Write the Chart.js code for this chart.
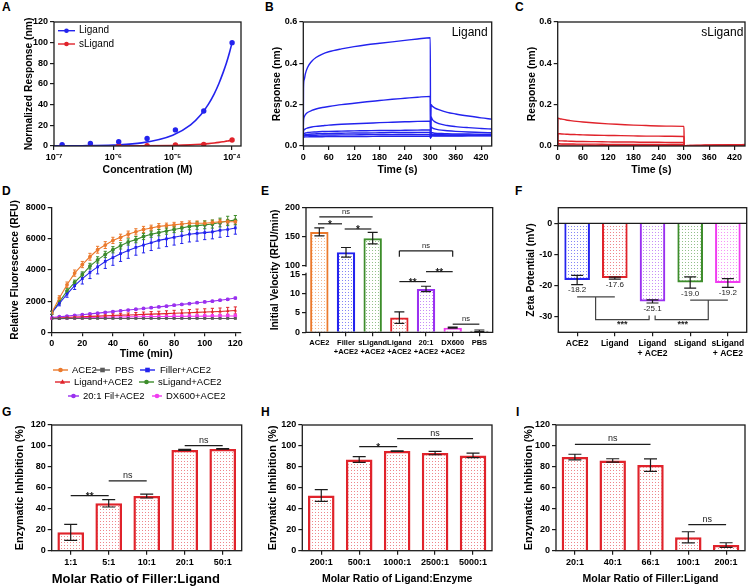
<!DOCTYPE html>
<html>
<head>
<meta charset="utf-8">
<title>Ligand binding and ACE2 inhibition</title>
<script src="https://cdn.jsdelivr.net/npm/chart.js@4.4.1/dist/chart.umd.min.js"></script>
<style>
  body { margin: 0; width: 749px; height: 586px; position: relative; overflow: hidden; background: #fff; font-family: "Liberation Sans", Arial, sans-serif; }
  canvas { position: absolute; }
  .tag { position: absolute; font-size: 12px; font-weight: bold; line-height: 12px; }
</style>
</head>
<body>
<div class="tag" style="left:2px;top:1px">A</div>
<div class="tag" style="left:265px;top:1px">B</div>
<div class="tag" style="left:515px;top:1px">C</div>
<div class="tag" style="left:2px;top:185px">D</div>
<div class="tag" style="left:261px;top:185px">E</div>
<div class="tag" style="left:515px;top:185px">F</div>
<div class="tag" style="left:2px;top:406px">G</div>
<div class="tag" style="left:261px;top:406px">H</div>
<div class="tag" style="left:516px;top:406px">I</div>
<script>
// ---------- A: concentration response ----------
const aConc = [1.37e-7, 4.1e-7, 1.23e-6, 3.7e-6, 1.11e-5, 3.33e-5, 1e-4];
const aLigand = [1.2, 2.4, 4.2, 7.2, 15.6, 33.8, 100];
const aSLigand = [0.1, 0.1, 0.3, 0.4, 0.9, 1.6, 5.8];
const aFitConc = [1e-7, 3e-7, 1e-6, 3e-6, 1e-5, 2e-5, 3e-5, 4e-5, 5e-5, 6e-5, 7e-5, 8e-5, 9e-5, 1e-4];
const aLigandFit = [0.1, 0.3, 1, 3, 10.5, 20.5, 30.5, 40.5, 50.5, 60.5, 70.5, 80, 90, 100];
const aSLigandFit = [0, 0, 0.05, 0.15, 0.55, 1.1, 1.7, 2.3, 2.9, 3.5, 4.1, 4.7, 5.2, 5.8];
const aTicks = [1e-7, 1e-6, 1e-5, 1e-4];

// ---------- B / C: sensorgrams ----------
const bTime = [0, 0.5, 2, 5, 10, 20, 30, 45, 60, 90, 120, 150, 180, 210, 240, 270, 300, 300.5, 302, 305, 310, 320, 340, 360, 390, 420, 445];
const bCurve1 = [0.05, 0.28, 0.32, 0.35, 0.38, 0.41, 0.428, 0.445, 0.456, 0.47, 0.481, 0.49, 0.497, 0.504, 0.511, 0.518, 0.524, 0.04, 0.2, 0.192, 0.185, 0.176, 0.163, 0.155, 0.145, 0.136, 0.13];
const bCurve2 = [0.05, 0.12, 0.14, 0.152, 0.162, 0.172, 0.179, 0.186, 0.191, 0.2, 0.207, 0.214, 0.22, 0.226, 0.231, 0.236, 0.24, 0.04, 0.14, 0.128, 0.118, 0.108, 0.099, 0.094, 0.089, 0.085, 0.082];
const bCurve3 = [0.05, 0.07, 0.078, 0.083, 0.087, 0.092, 0.095, 0.098, 0.101, 0.105, 0.108, 0.11, 0.113, 0.115, 0.117, 0.119, 0.12, 0.04, 0.092, 0.087, 0.083, 0.078, 0.074, 0.071, 0.068, 0.066, 0.064];
const bCurve4 = [0.05, 0.055, 0.06, 0.063, 0.065, 0.067, 0.068, 0.07, 0.071, 0.072, 0.073, 0.074, 0.075, 0.075, 0.076, 0.077, 0.078, 0.04, 0.066, 0.064, 0.062, 0.061, 0.059, 0.058, 0.058, 0.057, 0.057];
const bCurve5 = [0.045, 0.05, 0.053, 0.055, 0.056, 0.058, 0.059, 0.06, 0.061, 0.062, 0.063, 0.063, 0.064, 0.065, 0.065, 0.066, 0.066, 0.04, 0.057, 0.056, 0.055, 0.055, 0.054, 0.054, 0.054, 0.054, 0.053];
const bCurve6 = [0.045, 0.047, 0.049, 0.05, 0.051, 0.052, 0.052, 0.053, 0.053, 0.054, 0.054, 0.055, 0.055, 0.055, 0.056, 0.056, 0.056, 0.04, 0.052, 0.052, 0.051, 0.051, 0.051, 0.051, 0.05, 0.05, 0.05];
const bCurve7 = [0.04, 0.042, 0.043, 0.044, 0.044, 0.045, 0.045, 0.045, 0.046, 0.046, 0.046, 0.046, 0.047, 0.047, 0.047, 0.047, 0.048, 0.038, 0.048, 0.048, 0.048, 0.048, 0.048, 0.048, 0.049, 0.049, 0.049];
const cCurve1 = [0.005, 0.135, 0.134, 0.132, 0.13, 0.126, 0.123, 0.119, 0.116, 0.111, 0.107, 0.104, 0.101, 0.099, 0.097, 0.096, 0.095, 0.002, 0.002, 0.002, 0.003, 0.003, 0.003, 0.004, 0.005, 0.006, 0.007];
const cCurve2 = [0.004, 0.06, 0.06, 0.059, 0.058, 0.057, 0.056, 0.055, 0.054, 0.052, 0.051, 0.05, 0.049, 0.048, 0.048, 0.047, 0.046, 0.002, 0.002, 0.002, 0.002, 0.003, 0.003, 0.004, 0.004, 0.005, 0.006];
const cCurve3 = [0.003, 0.026, 0.026, 0.025, 0.025, 0.024, 0.023, 0.022, 0.022, 0.021, 0.02, 0.019, 0.019, 0.018, 0.018, 0.017, 0.017, 0.001, 0.001, 0.002, 0.002, 0.002, 0.003, 0.003, 0.004, 0.004, 0.005];
const cCurve4 = [0.002, 0.011, 0.011, 0.011, 0.01, 0.01, 0.01, 0.009, 0.009, 0.009, 0.008, 0.008, 0.008, 0.007, 0.007, 0.007, 0.007, 0.001, 0.001, 0.001, 0.002, 0.002, 0.002, 0.003, 0.003, 0.004, 0.004];
const cCurve5 = [0.001, 0.004, 0.004, 0.004, 0.004, 0.004, 0.004, 0.004, 0.004, 0.003, 0.003, 0.003, 0.003, 0.003, 0.003, 0.003, 0.003, 0.001, 0.001, 0.001, 0.001, 0.001, 0.002, 0.002, 0.002, 0.003, 0.003];
const timeTicks = [0, 60, 120, 180, 240, 300, 360, 420];
const respTicks = [0, 0.2, 0.4, 0.6];

// ---------- D: kinetics ----------
const dTime = [0, 5, 10, 15, 20, 25, 30, 35, 40, 45, 50, 55, 60, 65, 70, 75, 80, 85, 90, 95, 100, 105, 110, 115, 120];
const dAce2 = [1250, 2200, 3050, 3800, 4350, 4850, 5300, 5600, 5900, 6100, 6300, 6450, 6600, 6700, 6800, 6850, 6900, 6950, 7000, 7000, 7000, 7050, 7100, 7100, 7100];
const dAce2Err = [100, 150, 180, 200, 200, 220, 220, 220, 200, 200, 200, 200, 200, 180, 180, 160, 160, 150, 150, 150, 150, 150, 150, 150, 150];
const dPbs = [880, 880, 885, 885, 885, 885, 890, 890, 890, 890, 890, 890, 890, 890, 890, 890, 890, 890, 890, 890, 890, 890, 890, 890, 890];
const dPbsErr = [30, 30, 30, 30, 30, 30, 30, 30, 30, 30, 30, 30, 30, 30, 30, 30, 30, 30, 30, 30, 30, 30, 30, 30, 30];
const dFiller = [1250, 1850, 2450, 3000, 3450, 3850, 4200, 4550, 4800, 5050, 5250, 5450, 5600, 5750, 5900, 6000, 6100, 6200, 6300, 6350, 6400, 6450, 6550, 6600, 6700];
const dFillerErr = [100, 150, 200, 250, 350, 400, 450, 450, 500, 500, 500, 500, 500, 500, 500, 500, 500, 500, 500, 500, 450, 450, 450, 450, 400];
const dLigand = [900, 920, 950, 980, 1000, 1020, 1040, 1060, 1080, 1100, 1110, 1130, 1150, 1170, 1180, 1200, 1220, 1240, 1260, 1280, 1300, 1320, 1340, 1370, 1400];
const dLigandErr = [30, 40, 50, 60, 70, 80, 90, 100, 110, 120, 130, 140, 150, 160, 170, 180, 190, 200, 200, 210, 210, 220, 220, 230, 230];
const dSLigand = [1250, 1950, 2650, 3200, 3700, 4250, 4650, 5000, 5300, 5550, 5800, 5950, 6150, 6300, 6400, 6500, 6600, 6700, 6800, 6850, 6900, 6950, 7050, 7150, 7200];
const dSLigandErr = [100, 120, 150, 150, 180, 180, 200, 200, 200, 200, 200, 200, 200, 200, 200, 200, 200, 220, 220, 240, 250, 260, 280, 300, 300];
const dFil20 = [950, 1000, 1040, 1090, 1130, 1180, 1230, 1280, 1330, 1380, 1430, 1480, 1530, 1580, 1630, 1680, 1740, 1790, 1840, 1900, 1950, 2000, 2060, 2120, 2200];
const dFil20Err = [30, 30, 30, 30, 30, 40, 40, 40, 40, 40, 40, 40, 40, 40, 40, 50, 50, 50, 50, 50, 50, 50, 50, 60, 60];
const dDx600 = [900, 910, 920, 930, 940, 950, 960, 970, 980, 985, 990, 995, 1000, 1005, 1010, 1015, 1020, 1025, 1030, 1035, 1040, 1040, 1045, 1050, 1050];
const dDx600Err = [50, 50, 60, 60, 60, 70, 70, 70, 80, 80, 80, 80, 90, 90, 90, 90, 100, 100, 100, 100, 110, 110, 110, 120, 120];
const dTimeTicks = [0, 20, 40, 60, 80, 100, 120];
const dFluoTicks = [0, 2000, 4000, 6000, 8000];

// ---------- E: initial velocity (broken axis) ----------
const eLabels = ['ACE2', ['Filler', '+ACE2'], ['sLigand', '+ACE2'], ['Ligand', '+ACE2'], ['20:1', '+ACE2'], ['DX600', '+ACE2'], 'PBS'];
const eValues = [158, 122.5, 147, 3.8, 11.2, 1.2, 0.4];
const eErrors = [7, 8.4, 10, 1.5, 0.7, 0.15, 0.2];
const eTicks = [0, 5, 10, 15, 100, 150, 200];
const eSig = [
  {a: 0, b: 2, v: 184, t: 'ns'},
  {a: -0.05, b: 0.85, v: 172, t: '*'},
  {a: 0.95, b: 1.95, v: 163, t: '*'},
  {a: 3, b: 5, v: 125, drop: 115, t: 'ns'},
  {a: 3, b: 4, v: 13.1, t: '**'},
  {a: 4, b: 5, v: 39.5, t: '**'},
  {a: 5, b: 6, v: 2.1, t: 'ns'}
];

// ---------- F: zeta potential ----------
const fLabels = ['ACE2', 'Ligand', ['Ligand', '+ ACE2'], 'sLigand', ['sLigand', '+ ACE2']];
const fValues = [-18.2, -17.6, -25.1, -19.0, -19.2];
const fErrors = [1.5, 0.3, 0.5, 1.8, 1.4];
const fTicks = [-30, -20, -10, 0];
const fBracketLeft = [[0, -23.6], [1, -23.6], null, [0.49, -23.6], [0.49, -30.9], [1.91, -30.9], [1.91, -29.6]];
const fBracketRight = [[3, -24.7], [4, -24.7], null, [3.48, -24.7], [3.48, -30.9], [2.07, -30.9], [2.07, -29.6]];
const fStars = [[1.2, '***'], [2.8, '***']];

// ---------- G / H / I: enzymatic inhibition ----------
const gLabels = ['1:1', '5:1', '10:1', '20:1', '50:1'];
const gValues = [17.5, 45.2, 52.2, 96.2, 97.2];
const gErrors = [7.6, 3.5, 1.9, 0.5, 0.3];
const gSig = [{a: 0, b: 1, v: 52.5, t: '**'}, {a: 1, b: 2, v: 66.6, t: 'ns'}, {a: 3, b: 4, v: 100.3, t: 'ns'}];
const hLabels = ['200:1', '500:1', '1000:1', '2500:1', '5000:1'];
const hValues = [52.7, 87.1, 95.1, 93.2, 91];
const hErrors = [5.6, 2.7, 0.3, 1.6, 2.2];
const hSig = [{a: 1, b: 2, v: 99.3, t: '*'}, {a: 2, b: 4, v: 106.9, t: 'ns'}];
const iLabels = ['20:1', '40:1', '66:1', '100:1', '200:1'];
const iValues = [89.4, 86.2, 81.7, 12.8, 5.4];
const iErrors = [2.7, 1.6, 6, 5.3, 2.2];
const iSig = [{a: 0, b: 2, v: 101.5, t: 'ns'}, {a: 3, b: 4, v: 24.9, t: 'ns'}];
const pctTicks = [0, 20, 40, 60, 80, 100, 120];

// ---------- styling ----------
const BLUE = '#2323ee', RED = '#e0232b', ORANGE = '#eb7a2d', GREEN = '#3d8d2b', PURPLE = '#9a30f0', MAGENTA = '#f03cf0', GRAY = '#5a5a5a', INK = '#1c1c1c';
const FONT = '"Liberation Sans", Arial, sans-serif';
const YT = 10.3;   // y title size
Chart.defaults.font.family = FONT;
Chart.defaults.color = '#000';

// y axis with a break between 15 and 100
class BrokenScale extends Chart.LinearScale {
  toDecimal(v) {
    if (v <= 15) return v / 15 * 0.466;
    if (v >= 100) return 0.538 + (v - 100) / 100 * 0.462;
    return 0.466 + (v - 15) / 85 * 0.072;
  }
  getPixelForValue(v) {
    return this.getPixelForDecimal(this.toDecimal(v));
  }
  getValueForPixel(p) {
    const d = this.getDecimalForPixel(p);
    if (d <= 0.466) return d / 0.466 * 15;
    if (d >= 0.538) return 100 + (d - 0.538) / 0.462 * 100;
    return 15 + (d - 0.466) / 0.072 * 85;
  }
}
BrokenScale.id = 'broken';
BrokenScale.defaults = Chart.LinearScale.defaults;
Chart.register(BrokenScale);

function mk(id, cx, cy, cw, ch) {
  const c = document.createElement('canvas');
  c.id = id;
  c.width = cw;
  c.height = ch;
  c.style.left = cx + 'px';
  c.style.top = cy + 'px';
  c.style.width = cw + 'px';
  c.style.height = ch + 'px';
  document.body.appendChild(c);
  return c;
}

// pins the plot area: L,T,R,B = plot edges, tx = y title centre, ty = x title centre (page px)
function box(cx, cy, cw, ch, L, T, R, B, tx, ty, lhY, lhX) {
  return {
    padding: {left: tx - lhY / 2 - cx, top: T - cy, right: cx + cw - R, bottom: cy + ch - (ty + lhX / 2)},
    yFit: s => { s.width = L - (tx - lhY / 2); },
    xFit: s => { s.height = ty + lhX / 2 - B; }
  };
}

function pts(xs, ys) {
  return xs.map((x, i) => ({x: x, y: ys[i]}));
}

function dots(color) {
  const c = document.createElement('canvas');
  c.width = 3;
  c.height = 3;
  const g = c.getContext('2d');
  g.fillStyle = '#fff';
  g.fillRect(0, 0, 3, 3);
  g.globalAlpha = 0.55;
  g.fillStyle = color;
  g.fillRect(1, 1, 1, 1);
  return g.createPattern(c, 'repeat');
}

function axis(o) {
  const ticks = {font: {size: o.tick || 9, weight: 'bold'}, padding: 2, autoSkip: false, maxRotation: 0, color: '#000'};
  if (o.cb) ticks.callback = o.cb;
  const a = {
    type: o.type || 'linear',
    afterFit: o.fit,
    border: {display: !!o.border, color: INK, width: 1.3},
    grid: {display: true, drawOnChartArea: false, drawTicks: true, tickLength: 4, color: INK, lineWidth: 1.2, offset: false},
    ticks: ticks,
    title: {display: !!o.title, text: o.title || '', align: o.talign || 'center', font: {size: o.tsize || YT, weight: 'bold'}, padding: 0, color: '#000'}
  };
  if (o.min !== undefined) a.min = o.min;
  if (o.max !== undefined) a.max = o.max;
  if (o.offset) a.offset = true;
  if (o.list) a.afterBuildTicks = s => { s.ticks = o.list.map(v => ({value: v})); };
  return a;
}

function base(lay, scales) {
  return {
    responsive: false,
    animation: false,
    devicePixelRatio: 1,
    layout: {padding: lay.padding},
    plugins: {legend: {display: false}, tooltip: {enabled: false}},
    scales: scales
  };
}

function frame(c) {
  const a = c.chartArea, g = c.ctx;
  g.save();
  g.strokeStyle = INK;
  g.lineWidth = 1.3;
  g.strokeRect(a.left, a.top, a.right - a.left, a.bottom - a.top);
  g.restore();
}

function errorBars(c, di, vals, errs, color, cap, lw) {
  const meta = c.getDatasetMeta(di), y = c.scales.y, g = c.ctx;
  g.save();
  g.strokeStyle = color;
  g.lineWidth = lw;
  meta.data.forEach((el, i) => {
    if (!errs[i]) return;
    const x = el.x, y1 = y.getPixelForValue(vals[i] + errs[i]), y2 = y.getPixelForValue(vals[i] - errs[i]);
    g.beginPath();
    g.moveTo(x, y1); g.lineTo(x, y2);
    g.moveTo(x - cap, y1); g.lineTo(x + cap, y1);
    g.moveTo(x - cap, y2); g.lineTo(x + cap, y2);
    g.stroke();
  });
  g.restore();
}

function sig(c, items, nsSize) {
  const g = c.ctx, x = c.scales.x, y = c.scales.y;
  g.save();
  g.strokeStyle = INK;
  g.fillStyle = INK;
  g.lineWidth = 1.2;
  g.textAlign = 'center';
  g.textBaseline = 'alphabetic';
  items.forEach(s => {
    const x1 = x.getPixelForValue(s.a), x2 = x.getPixelForValue(s.b), yy = y.getPixelForValue(s.v);
    g.beginPath();
    g.moveTo(x1, yy); g.lineTo(x2, yy);
    if (s.drop != null) {
      const yd = y.getPixelForValue(s.drop);
      g.moveTo(x1, yy); g.lineTo(x1, yd);
      g.moveTo(x2, yy); g.lineTo(x2, yd);
    }
    g.stroke();
    if (s.t === 'ns') {
      g.font = nsSize + 'px ' + FONT;
      g.fillText('ns', (x1 + x2) / 2, yy - 3);
    } else {
      g.font = 'bold 10px ' + FONT;
      g.fillText(s.t, (x1 + x2) / 2, yy + 4);
    }
  });
  g.restore();
}

function marker(g, style, x, y, r, color) {
  g.fillStyle = color;
  g.beginPath();
  if (style === 'rect') g.rect(x - r, y - r, 2 * r, 2 * r);
  else if (style === 'triangle') { g.moveTo(x, y - r * 1.2); g.lineTo(x + r * 1.1, y + r * 0.8); g.lineTo(x - r * 1.1, y + r * 0.8); g.closePath(); }
  else g.arc(x, y, r, 0, Math.PI * 2);
  g.fill();
}

function legendItem(g, x1, x2, y, color, style, text, tx, font) {
  g.strokeStyle = color;
  g.lineWidth = 1.4;
  g.beginPath();
  g.moveTo(x1, y); g.lineTo(x2, y);
  g.stroke();
  marker(g, style, (x1 + x2) / 2, y, 2.3, color);
  g.fillStyle = '#000';
  g.font = font;
  g.textAlign = 'left';
  g.textBaseline = 'middle';
  g.fillText(text, tx, y);
}

// ---------- A ----------
const layA = box(0, 0, 245, 182, 54, 22, 241, 146, 29, 170, 12.4, 12.6);
const supDigits = {'-': '\u207b', '4': '\u2074', '5': '\u2075', '6': '\u2076', '7': '\u2077'};
new Chart(mk('cA', 0, 0, 245, 182), {
  type: 'scatter',
  data: {datasets: [
    {data: pts(aConc, aLigand), pointRadius: 2.7, backgroundColor: BLUE, borderWidth: 0},
    {data: pts(aConc, aSLigand), pointRadius: 2.7, backgroundColor: RED, borderWidth: 0},
    {data: pts(aFitConc, aLigandFit), showLine: true, pointRadius: 0, borderColor: BLUE, borderWidth: 1.6, cubicInterpolationMode: 'monotone'},
    {data: pts(aFitConc, aSLigandFit), showLine: true, pointRadius: 0, borderColor: RED, borderWidth: 1.6, cubicInterpolationMode: 'monotone'}
  ]},
  options: base(layA, {
    x: axis({type: 'logarithmic', min: 1e-7, max: Math.pow(10, -3.85), fit: layA.xFit, list: aTicks, title: 'Concentration (M)', tsize: 10.5,
      cb: v => '10' + String(Math.round(Math.log10(v))).split('').map(ch => supDigits[ch] || ch).join('')}),
    y: axis({min: 0, max: 120, fit: layA.yFit, list: [0, 20, 40, 60, 80, 100, 120], title: 'Normalized Response (nm)'})
  }),
  plugins: [{id: 'aDeco', afterDraw(c) {
    frame(c);
    const g = c.ctx;
    g.save();
    legendItem(g, 58, 75, 30.7, BLUE, 'circle', 'Ligand', 79, '10px ' + FONT);
    legendItem(g, 58, 75, 44, RED, 'circle', 'sLigand', 79, '10px ' + FONT);
    g.restore();
  }}]
});

// ---------- B / C ----------
function sensorChart(id, cx, cw, L, R, tx, curves, color, tag, tagX) {
  const lay = box(cx, 0, cw, 182, L, 22, R, 146, tx, 170, 12.4, 12.6);
  return new Chart(mk(id, cx, 0, cw, 182), {
    type: 'scatter',
    data: {datasets: curves.map(cv => ({data: pts(bTime, cv), showLine: true, pointRadius: 0, borderColor: color, borderWidth: 1.4, cubicInterpolationMode: 'monotone'}))},
    options: base(lay, {
      x: axis({min: 0, max: 445, fit: lay.xFit, list: timeTicks, title: 'Time (s)', tsize: 10.5}),
      y: axis({min: 0, max: 0.6, fit: lay.yFit, list: respTicks, title: 'Response (nm)', cb: v => v.toFixed(1)})
    }),
    plugins: [{id: id + 'Deco', afterDraw(c) {
      frame(c);
      const g = c.ctx;
      g.save();
      g.fillStyle = '#000';
      g.font = '12px ' + FONT;
      g.textAlign = 'right';
      g.textBaseline = 'middle';
      g.fillText(tag, tagX, 32.3);
      g.restore();
    }}]
  });
}
sensorChart('cB', 245, 250, 303.3, 491.7, 276.7, [bCurve1, bCurve2, bCurve3, bCurve4, bCurve5, bCurve6, bCurve7], BLUE, 'Ligand', 242.7);
sensorChart('cC', 495, 254, 557.7, 745, 531.7, [cCurve1, cCurve2, cCurve3, cCurve4, cCurve5], RED, 'sLigand', 248.3);

// ---------- D ----------
const layD = box(0, 180, 245, 222, 51.7, 207.7, 240.7, 332.3, 15, 354, 12.4, 12.6);
const dSeries = [
  {label: 'ACE2', v: dAce2, e: dAce2Err, c: ORANGE, s: 'circle'},
  {label: 'PBS', v: dPbs, e: dPbsErr, c: GRAY, s: 'rect'},
  {label: 'Filler+ACE2', v: dFiller, e: dFillerErr, c: BLUE, s: 'rect'},
  {label: 'Ligand+ACE2', v: dLigand, e: dLigandErr, c: RED, s: 'triangle'},
  {label: 'sLigand+ACE2', v: dSLigand, e: dSLigandErr, c: GREEN, s: 'circle'},
  {label: '20:1 Fil+ACE2', v: dFil20, e: dFil20Err, c: PURPLE, s: 'circle'},
  {label: 'DX600+ACE2', v: dDx600, e: dDx600Err, c: MAGENTA, s: 'circle'}
];
new Chart(mk('cD', 0, 180, 245, 222), {
  type: 'scatter',
  data: {datasets: dSeries.map(s => ({label: s.label, data: pts(dTime, s.v), showLine: true, borderColor: s.c, backgroundColor: s.c, borderWidth: 1.1,
    pointRadius: 1.9, pointStyle: s.s, pointBorderWidth: 0}))},
  options: base(layD, {
    x: axis({min: 0, max: 123.5, fit: layD.xFit, list: dTimeTicks, title: 'Time (min)', tsize: 10.5, border: true}),
    y: axis({min: 0, max: 8000, fit: layD.yFit, list: dFluoTicks, title: 'Relative Fluorescence (RFU)', border: true, cb: v => String(v)})
  }),
  plugins: [{id: 'dDeco',
    beforeDatasetsDraw(c) {
      dSeries.forEach((s, i) => errorBars(c, i, s.v, s.e, s.c, 1.6, 1));
    },
    afterDraw(c) {
      const g = c.ctx, f = '9.5px ' + FONT;
      g.save();
      legendItem(g, 53, 68, 190, ORANGE, 'circle', 'ACE2', 72, f);
      legendItem(g, 95, 110, 190, GRAY, 'rect', 'PBS', 115, f);
      legendItem(g, 140, 155, 190, BLUE, 'rect', 'Filler+ACE2', 160, f);
      legendItem(g, 55, 70, 202, RED, 'triangle', 'Ligand+ACE2', 74, f);
      legendItem(g, 139, 154, 202, GREEN, 'circle', 'sLigand+ACE2', 158, f);
      legendItem(g, 68, 79, 216, PURPLE, 'circle', '20:1 Fil+ACE2', 83, f);
      legendItem(g, 152, 162, 216, MAGENTA, 'circle', 'DX600+ACE2', 166, f);
      g.restore();
    }}]
});

// ---------- E ----------
const layE = box(245, 180, 250, 222, 306, 207.7, 492.7, 332.3, 275, 370, 12.4, 12.6);
const eColors = [ORANGE, BLUE, GREEN, RED, PURPLE, MAGENTA, GRAY];
new Chart(mk('cE', 245, 180, 250, 222), {
  type: 'bar',
  data: {labels: eLabels, datasets: [{data: eValues, backgroundColor: eColors.map(dots), borderColor: eColors, borderWidth: 2.2,
    barPercentage: 0.69, categoryPercentage: 1}]},
  options: base(layE, {
    x: axis({type: 'category', offset: true, fit: layE.xFit, tick: 7.5}),
    y: axis({type: 'broken', min: 0, max: 200, fit: layE.yFit, list: eTicks, title: 'Initial Velocity (RFU/min)'})
  }),
  plugins: [{id: 'eDeco', afterDraw(c) {
    errorBars(c, 0, eValues, eErrors, INK, 5, 1.2);
    sig(c, eSig, 7.5);
    const a = c.chartArea, g = c.ctx, y = c.scales.y;
    g.save();
    g.strokeStyle = INK;
    g.lineWidth = 1.3;
    g.beginPath();
    g.moveTo(a.left, y.getPixelForValue(100) + 1.5);
    g.lineTo(a.left, a.top);
    g.lineTo(a.right, a.top);
    g.lineTo(a.right, a.bottom);
    g.lineTo(a.left, a.bottom);
    g.lineTo(a.left, y.getPixelForValue(15) - 1.5);
    g.stroke();
    g.restore();
  }}]
});

// ---------- F ----------
const layF = box(495, 180, 254, 222, 558.3, 207.7, 746.7, 332.3, 531, 370, 12.4, 12.6);
const fColors = [BLUE, RED, PURPLE, GREEN, MAGENTA];
new Chart(mk('cF', 495, 180, 254, 222), {
  type: 'bar',
  data: {labels: fLabels, datasets: [{data: fValues, backgroundColor: fColors.map(dots), borderColor: fColors, borderWidth: 2.2,
    barPercentage: 0.68, categoryPercentage: 1}]},
  options: base(layF, {
    x: axis({type: 'category', offset: true, fit: layF.xFit, tick: 8.5}),
    y: axis({min: -35, max: 5, fit: layF.yFit, list: fTicks, title: 'Zeta Potential (mV)'})
  }),
  plugins: [{id: 'fDeco', afterDraw(c) {
    const a = c.chartArea, g = c.ctx, x = c.scales.x, y = c.scales.y;
    errorBars(c, 0, fValues, fErrors, INK, 6, 1.2);
    g.save();
    g.strokeStyle = INK;
    g.lineWidth = 1.2;
    g.beginPath();
    g.moveTo(a.left, y.getPixelForValue(0));
    g.lineTo(a.right, y.getPixelForValue(0));
    g.stroke();
    g.strokeStyle = '#444';
    [fBracketLeft, fBracketRight].forEach(path => {
      g.beginPath();
      let pen = false;
      path.forEach(p => {
        if (!p) { pen = false; return; }
        const px = x.getPixelForValue(p[0]), py = y.getPixelForValue(p[1]);
        if (pen) g.lineTo(px, py); else g.moveTo(px, py);
        pen = true;
      });
      g.stroke();
    });
    g.fillStyle = INK;
    g.textAlign = 'center';
    g.textBaseline = 'middle';
    g.font = '8px ' + FONT;
    c.getDatasetMeta(0).data.forEach((el, i) => {
      g.fillText(fValues[i].toFixed(1), el.x, y.getPixelForValue(fValues[i] - fErrors[i]) + 5.5);
    });
    g.font = 'bold 9px ' + FONT;
    fStars.forEach(s => g.fillText(s[1], x.getPixelForValue(s[0]), y.getPixelForValue(-30.9) + 5));
    g.restore();
    frame(c);
  }}]
});

// ---------- G / H / I ----------
function inhibitionChart(id, cx, cw, L, R, tx, labels, values, errors, sigs, xTitle, tsize, talign) {
  const lay = box(cx, 400, cw, 186, L, 425, R, 550.7, tx, 579, 12.4, tsize * 1.2);
  return new Chart(mk(id, cx, 400, cw, 186), {
    type: 'bar',
    data: {labels: labels, datasets: [{data: values, backgroundColor: dots(RED), borderColor: RED, borderWidth: 2.5,
      barPercentage: 0.7, categoryPercentage: 1}]},
    options: base(lay, {
      x: axis({type: 'category', offset: true, fit: lay.xFit, title: xTitle, tsize: tsize, talign: talign}),
      y: axis({min: 0, max: 120, fit: lay.yFit, list: pctTicks, title: 'Enzymatic Inhibition (%)', tsize: 10.8})
    }),
    plugins: [{id: id + 'Deco', afterDraw(c) {
      errorBars(c, 0, values, errors, INK, 6.5, 1.2);
      sig(c, sigs, 9);
      frame(c);
    }}]
  });
}
inhibitionChart('cG', 0, 245, 51.7, 241.7, 20, gLabels, gValues, gErrors, gSig, 'Molar Ratio of Filler:Ligand', 13, 'start');
inhibitionChart('cH', 245, 250, 302.3, 492, 273, hLabels, hValues, hErrors, hSig, 'Molar Ratio of Ligand:Enzyme', 10.5, 'center');
inhibitionChart('cI', 495, 254, 556, 745, 529, iLabels, iValues, iErrors, iSig, 'Molar Ratio of Filler:Ligand', 10.5, 'center');
</script>
</body>
</html>
